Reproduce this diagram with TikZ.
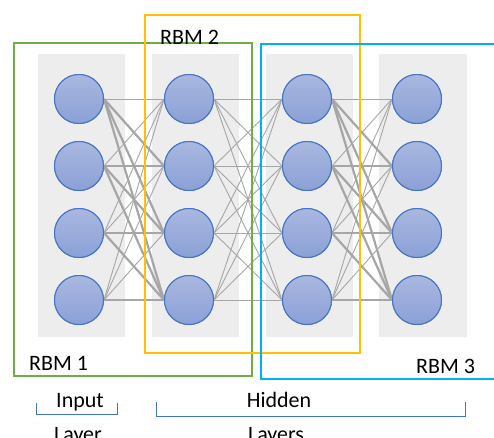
\documentclass[tikz,border=0pt]{standalone}
\usepackage{fontspec}
\setmainfont{Carlito}
\begin{document}
\begin{tikzpicture}[x=1pt,y=-1pt,
  colbg/.style={fill=black!7,draw=none},
  neuron/.style={circle,draw=nblue,line width=1pt,top color=ntop,bottom color=nbot,minimum size=49pt,inner sep=0pt},
  thinedge/.style={draw=egray,line width=0.9pt},
  thickedge/.style={draw=egray,line width=2.2pt},
  rbm/.style={line width=2.5pt},
  lbl/.style={font=\fontsize{22}{24}\selectfont,anchor=base west,inner sep=0pt},
  brace/.style={draw=nblue,line width=0.9pt},
  ]
\definecolor{nblue}{HTML}{4472C4}
\definecolor{ntop}{HTML}{AAB8E0}
\definecolor{nbot}{HTML}{8AA0D6}
\definecolor{egray}{HTML}{A6A6A6}
\definecolor{rgreen}{HTML}{70AD47}
\definecolor{ryellow}{HTML}{FFC000}
\definecolor{rblue}{HTML}{00B0F0}
\useasboundingbox (0,0) rectangle (494,437);
\clip (0,0) rectangle (494,437);
% gray columns
\foreach \xa/\xb in {38/125,152/239,266/353,379/467}
  \fill[colbg] (\xa,54) rectangle (\xb,337);
% neurons
\foreach \c/\x in {1/79,2/189,3/307,4/417}
  \foreach \r/\y in {1/99,2/166,3/233,4/300}
    \node[neuron] (n\c\r) at (\x,\y) {};
% edges
\foreach \a/\b in {1/2,3/4}
  \foreach \i in {1,...,4}
    \foreach \j in {1,...,4}{
      \pgfmathtruncatemacro{\th}{(\j>=\i) && !(\i==1 && \j==1)}
      \ifnum\th=1
        \draw[thickedge] (n\a\i.east) -- (n\b\j.west);
      \else
        \draw[thinedge] (n\a\i.east) -- (n\b\j.west);
      \fi
    }
\foreach \i in {1,...,4}
  \foreach \j in {1,...,4}
    \draw[thinedge] (n2\i.east) -- (n3\j.west);
% redraw neurons on top
\foreach \c/\x in {1/79,2/189,3/307,4/417}
  \foreach \r/\y in {1/99,2/166,3/233,4/300}
    \node[neuron] at (\x,\y) {};
% RBM boxes
\draw[rbm,draw=rgreen] (14,43) rectangle (252,376);
\draw[rbm,draw=ryellow] (145,15) rectangle (360,353);
\draw[rbm,draw=rblue] (261,44) rectangle (510,379);
% labels
\node[lbl] (r2) at (160,44) {RBM 2};
\node[lbl] (r1) at (29,370) {RBM 1};
\node[lbl] (r3) at (416,373) {RBM 3};
% braces
\draw[brace] (36,403) -- (36,414) -- (117,414) -- (117,403);
\draw[brace] (156,402) -- (156,416) -- (465,416) -- (465,402);
\node[lbl,anchor=base] (in) at (80,407) {Input};
\node[lbl,anchor=base] (la) at (78,441) {Layer};
\node[lbl,anchor=base] (hi) at (279,407) {Hidden};
\node[lbl,anchor=base] (ls) at (276,441) {Layers};
\end{tikzpicture}
\end{document}
